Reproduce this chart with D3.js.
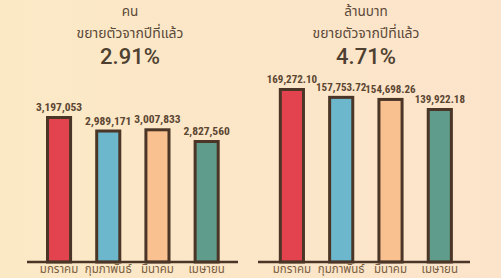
<!DOCTYPE html>
<html>
<head>
<meta charset="utf-8">
<script src="https://cdn.jsdelivr.net/npm/d3@7/dist/d3.min.js"></script>
<style>
html,body{margin:0;padding:0;background:#fbe7c7;}
svg{display:block;}
</style>
</head>
<body>
<svg id="chart" width="501" height="278"></svg>
<script>
const months = ["มกราคม", "กุมภาพันธ์", "มีนาคม", "เมษายน"];
const visitors = [3197053, 2989171, 3007833, 2827560];
const revenue = [169272.10, 157753.72, 154698.26, 139922.18];
const visitorLabels = ["3,197,053", "2,989,171", "3,007,833", "2,827,560"];
const revenueLabels = ["169,272.10", "157,753.72", "154,698.26", "139,922.18"];
const colors = ["#e2434f", "#6cb7cb", "#f9c190", "#5f9c8b"];
const leftTitle = ["คน", "ขยายตัวจากปีที่แล้ว", "2.91%"];
const rightTitle = ["ล้านบาท", "ขยายตัวจากปีที่แล้ว", "4.71%"];

const svg = d3.select("#chart");
const defs = svg.append("defs");
const grad = defs.append("linearGradient").attr("id", "bg").attr("x1", "0").attr("x2", "1").attr("y1", "0").attr("y2", "0");
grad.append("stop").attr("offset", "0").attr("stop-color", "#fbe9c6");
grad.append("stop").attr("offset", "1").attr("stop-color", "#fce4cb");
svg.append("rect").attr("width", 501).attr("height", 278).attr("fill", "url(#bg)");

const thaiFont = "'Noto Sans Thai','Noto Sans Thai Looped','Loma','Garuda','Noto Sans','DejaVu Sans',sans-serif";
const numFont = "'Liberation Sans Narrow','Roboto Condensed','Roboto',sans-serif";
const baseY = 262;

function panel(opts) {
  const g = svg.append("g");
  const x = d3.scaleBand().domain(months).range(opts.xRange).paddingInner(0.47).paddingOuter(0.25);
  const y = d3.scaleLinear().domain(opts.yDomain).range([baseY, opts.topY]);

  const cx = opts.cx;
  g.append("text").attr("x", cx).attr("y", 16).attr("text-anchor", "middle")
    .attr("font-family", thaiFont).attr("font-size", 13.5).attr("fill", "#5a4838").text(opts.title[0]);
  g.append("text").attr("x", cx).attr("y", 38).attr("text-anchor", "middle")
    .attr("font-family", thaiFont).attr("font-size", 14).attr("fill", "#5a4838").text(opts.title[1]);
  g.append("text").attr("x", cx).attr("y", 64).attr("text-anchor", "middle")
    .attr("font-family", "Roboto,sans-serif").attr("font-weight", 500).attr("font-size", 22)
    .attr("fill", "#4e4030").text(opts.title[2]);

  g.selectAll("rect.bar").data(months).join("rect").attr("class", "bar")
    .attr("x", d => x(d) + 1.5)
    .attr("width", x.bandwidth() - 3)
    .attr("y", (d, i) => y(opts.values[i]) + 1.5)
    .attr("height", (d, i) => baseY - y(opts.values[i]) - 1.5)
    .attr("fill", (d, i) => colors[i])
    .attr("stroke", "#4a3526").attr("stroke-width", 3);

  g.selectAll("text.val").data(months).join("text").attr("class", "val")
    .attr("x", d => x(d) + x.bandwidth() / 2)
    .attr("y", (d, i) => y(opts.values[i]) - 5)
    .attr("text-anchor", "middle")
    .attr("font-family", numFont).attr("font-weight", "bold").attr("font-size", opts.valSize)
    .attr("fill", "#5b4632")
    .text((d, i) => opts.labels[i]);

  g.append("line").attr("x1", opts.lineX[0]).attr("x2", opts.lineX[1])
    .attr("y1", baseY).attr("y2", baseY).attr("stroke", "#4a3526").attr("stroke-width", 2.5);

  const axis = d3.axisBottom(x).tickSize(0).tickPadding(0);
  const ax = g.append("g").attr("transform", `translate(0,${baseY})`).call(axis);
  ax.select(".domain").remove();
  ax.selectAll("text").attr("y", 11).attr("dy", 0)
    .attr("font-family", thaiFont).attr("font-size", 11.5).attr("fill", "#7a5d40");
}

panel({
  xRange: [33.7, 232], yDomain: [950000, 3197053], topY: 116, valSize: 11.5,
  values: visitors, labels: visitorLabels, title: leftTitle, cx: 130, lineX: [27, 238]
});
panel({
  xRange: [266.5, 465.2], yDomain: [-86000, 169272.10], topY: 88, valSize: 11,
  values: revenue, labels: revenueLabels, title: rightTitle, cx: 366, lineX: [258, 470]
});
</script>
</body>
</html>
